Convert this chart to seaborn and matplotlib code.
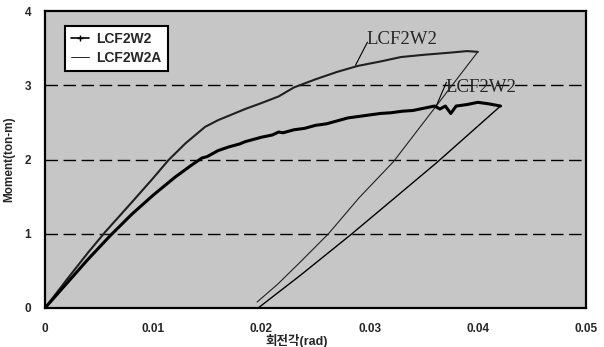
import matplotlib
matplotlib.use("Agg")
import matplotlib.pyplot as plt
from matplotlib.lines import Line2D
import seaborn as sns
import pandas as pd

# LCF2W2 (lower, thick) loading branch
w2_load_x = [0, 0.002, 0.004, 0.006, 0.008, 0.010, 0.012, 0.0135, 0.0145, 0.015, 0.016,
             0.017, 0.018, 0.0185, 0.019, 0.020, 0.021, 0.0216, 0.022, 0.023, 0.024, 0.025,
             0.026, 0.027, 0.028, 0.029, 0.030, 0.031, 0.032, 0.033, 0.034, 0.035, 0.036,
             0.0365, 0.037, 0.0375, 0.038, 0.039, 0.040, 0.041, 0.0421]
w2_load_y = [0, 0.33, 0.66, 0.97, 1.26, 1.52, 1.76, 1.92, 2.02, 2.04, 2.12,
             2.17, 2.21, 2.24, 2.26, 2.30, 2.33, 2.37, 2.36, 2.40, 2.42, 2.46,
             2.48, 2.52, 2.56, 2.58, 2.60, 2.62, 2.63, 2.65, 2.66, 2.69, 2.72,
             2.68, 2.72, 2.62, 2.72, 2.74, 2.77, 2.75, 2.72]
# LCF2W2 unloading branch
w2_unload_x = [0.0421, 0.0363, 0.0323, 0.0282, 0.0236, 0.0197]
w2_unload_y = [2.72, 1.97, 1.48, 0.98, 0.44, 0.0]

# LCF2W2A (upper, thin) loading branch
w2a_load_x = [0, 0.002, 0.004, 0.0056, 0.008, 0.010, 0.0114, 0.013, 0.0148, 0.016, 0.0185,
              0.020, 0.0216, 0.023, 0.025, 0.027, 0.0289, 0.031, 0.0329, 0.035, 0.0375,
              0.039, 0.040]
w2a_load_y = [0, 0.38, 0.75, 1.03, 1.42, 1.75, 1.99, 2.22, 2.44, 2.53, 2.68,
              2.76, 2.85, 2.97, 3.08, 3.18, 3.26, 3.32, 3.38, 3.41, 3.44,
              3.46, 3.45]
# LCF2W2A unloading branch
w2a_unload_x = [0.040, 0.0322, 0.0290, 0.0262, 0.0236, 0.0215, 0.0196]
w2a_unload_y = [3.45, 1.97, 1.48, 1.00, 0.62, 0.32, 0.08]

x_ticks = [0, 0.01, 0.02, 0.03, 0.04, 0.05]
x_tick_labels = ["0", "0.01", "0.02", "0.03", "0.04", "0.05"]
y_ticks = [0, 1, 2, 3, 4]
y_tick_labels = ["0", "1", "2", "3", "4"]
series_names = ["LCF2W2", "LCF2W2A"]

sns.set_style("white")
plt.rcParams["font.family"] = ["Liberation Sans", "Noto Sans CJK KR", "DejaVu Sans"]

fig = plt.figure(figsize=(6.04, 3.47), dpi=100)
ax = fig.add_axes([45 / 604, (347 - 308) / 347, (586 - 45) / 604, (308 - 11) / 347])
ax.set_facecolor("#c6c6c6")

def branch(xs, ys):
    return pd.DataFrame({"x": xs, "y": ys})

sns.lineplot(data=branch(w2a_load_x, w2a_load_y), x="x", y="y", sort=False,
             estimator=None, color="#202020", linewidth=1.5, ax=ax)
sns.lineplot(data=branch(w2a_unload_x, w2a_unload_y), x="x", y="y", sort=False,
             estimator=None, color="#202020", linewidth=0.8, ax=ax)
sns.lineplot(data=branch(w2_load_x, w2_load_y), x="x", y="y", sort=False,
             estimator=None, color="black", linewidth=2.2, ax=ax)
sns.lineplot(data=branch(w2_unload_x, w2_unload_y), x="x", y="y", sort=False,
             estimator=None, color="black", linewidth=1.0, ax=ax)

for yv in [1, 2, 3]:
    ax.axhline(yv, color="black", linewidth=1.0, dashes=(9, 4), zorder=1)

ax.set_xlim(0, 0.05)
ax.set_ylim(0, 4)
ax.set_xticks(x_ticks)
ax.set_xticklabels(x_tick_labels, fontweight="bold", fontsize=8.5)
ax.set_yticks(y_ticks)
ax.set_yticklabels(y_tick_labels, fontweight="bold", fontsize=8.5)
ax.tick_params(axis="x", direction="in", length=3, width=1.2, pad=11)
ax.tick_params(axis="y", length=0, pad=10)
for s in ax.spines.values():
    s.set_color("black")
    s.set_linewidth(1.6)

ax.set_xlabel("회전각(rad)", fontsize=9, fontweight="bold")
ax.xaxis.set_label_coords((297 - 45) / 541, -(340.5 - 308) / 297)
ax.xaxis.label.set_va("center")
ax.set_ylabel("Moment(ton-m)", fontsize=8.5, fontweight="bold")
ax.yaxis.set_label_coords(-(45 - 15) / 541, 0.5)

handles = [
    Line2D([0], [0], color="black", linewidth=1.2, marker="+", markersize=4),
    Line2D([0], [0], color="black", linewidth=0.6),
]
leg = ax.legend(handles, series_names, loc="upper left",
                bbox_to_anchor=((65 - 45) / 541, (308 - 26) / 297), borderaxespad=0,
                fancybox=False, framealpha=1, edgecolor="black", handlelength=1.3,
                handletextpad=0.5, prop={"weight": "bold", "size": 10},
                labelspacing=0.35, borderpad=0.45)
leg.get_frame().set_linewidth(1.5)

serif = {"family": "Liberation Serif", "size": 13.5}
ax.text(0.0297, 3.50, series_names[0], fontdict=serif, va="bottom", ha="left")
ax.plot([0.0298, 0.0287], [3.58, 3.27], color="black", linewidth=0.8)
ax.text(0.0370, 2.86, series_names[0], fontdict=serif, va="bottom", ha="left")
ax.plot([0.0371, 0.0361], [3.04, 2.70], color="black", linewidth=0.8)

fig.savefig("out.png", dpi=100, facecolor="white")
